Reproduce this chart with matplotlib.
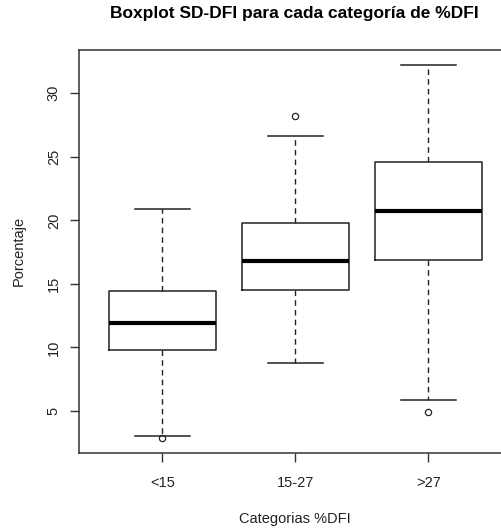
import matplotlib.pyplot as plt

plt.rcParams['font.family'] = ['Liberation Sans', 'DejaVu Sans']

# resumen de cada grupo (cuartiles, bigotes y atípicos)
categorias = ['<15', '15-27', '>27']
bigote_inf = [3.0, 8.8, 5.9]
q1 = [9.8, 14.5, 16.9]
mediana = [11.9, 16.8, 20.7]
q3 = [14.4, 19.8, 24.6]
bigote_sup = [20.9, 26.6, 32.2]
atipicos = [[2.85], [28.2], [4.9]]

stats = []
for i, cat in enumerate(categorias):
    stats.append({'label': cat, 'whislo': bigote_inf[i], 'q1': q1[i], 'med': mediana[i],
                  'q3': q3[i], 'whishi': bigote_sup[i], 'fliers': atipicos[i]})

fig = plt.figure(figsize=(5.02, 5.32), dpi=100)
ax = fig.add_axes([0.157, 0.148, 0.863, 0.7575])

ax.bxp(stats, positions=[1, 2, 3], widths=0.8, showfliers=True,
       boxprops=dict(color='#222222', linewidth=1.1),
       medianprops=dict(color='black', linewidth=3),
       whiskerprops=dict(color='#222222', linewidth=1, linestyle=(0, (4, 3))),
       capprops=dict(color='#222222', linewidth=1.1),
       capwidths=0.41,
       flierprops=dict(marker='o', markersize=4.5, markerfacecolor='none',
                       markeredgecolor='#222222', markeredgewidth=0.9))

ax.set_xlim(0.372, 3.628)
ax.set_ylim(1.67, 33.38)
ax.set_yticks([5, 10, 15, 20, 25, 30])
ax.set_xticks([1, 2, 3])
ax.set_xticklabels(categorias)

for s in ax.spines.values():
    s.set_color('#333333')
    s.set_linewidth(1.1)
ax.tick_params(axis='both', direction='out', length=6.5, width=1, color='#333333',
               labelsize=10.5, labelcolor='#222222')
ax.tick_params(axis='x', pad=10)
ax.tick_params(axis='y', pad=6.5)
for lab in ax.get_yticklabels():
    lab.set_rotation(90)
    lab.set_va('center')

fig.text(0.586, 0.975, 'Boxplot SD-DFI para cada categoría de %DFI',
         ha='center', va='center', fontsize=12.5, fontweight='bold')
fig.text(0.587, 0.0235, 'Categorias %DFI', ha='center', va='center',
         fontsize=10.5, color='#222222')
fig.text(0.038, 0.528, 'Porcentaje', ha='center', va='center', rotation=90,
         fontsize=10.5, color='#222222')

fig.savefig('out.png', dpi=100)
